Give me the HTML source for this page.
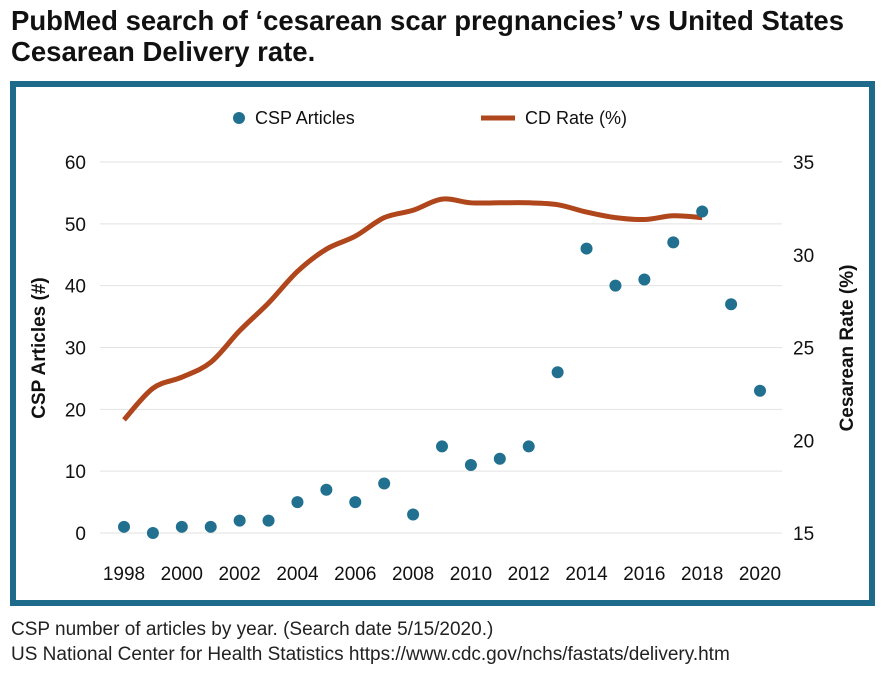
<!DOCTYPE html>
<html><head><meta charset="utf-8"><style>
body{margin:0;width:885px;height:685px;background:#fff;font-family:"Liberation Sans",Arial,sans-serif;overflow:hidden}
#title{position:absolute;left:11px;top:5px;font-size:27.5px;font-weight:bold;line-height:31px;color:#111}
#frame{position:absolute;left:10px;top:81px;width:853px;height:513px;border:6px solid #1e6a8b}
.note{position:absolute;left:11px;font-size:19px;color:#222}
</style></head><body>
<div id="title">PubMed search of ‘cesarean scar pregnancies’ vs United States<br>Cesarean Delivery rate.</div>
<div id="frame"></div>
<svg id="chart" width="885" height="685" style="position:absolute;left:0;top:0"></svg>
<div class="note" style="top:619px">CSP number of articles by year. (Search date 5/15/2020.)</div>
<div class="note" style="top:644px">US National Center for Health Statistics https://www.cdc.gov/nchs/fastats/delivery.htm</div>
<script>
const years=[1998,1999,2000,2001,2002,2003,2004,2005,2006,2007,2008,2009,2010,2011,2012,2013,2014,2015,2016,2017,2018,2019,2020];
const articles=[1,0,1,1,2,2,5,7,5,8,3,14,11,12,14,26,46,40,41,47,52,37,23];
const cdYears=[1998,1999,2000,2001,2002,2003,2004,2005,2006,2007,2008,2009,2010,2011,2012,2013,2014,2015,2016,2017,2018];
const cdRate=[21.1,22.8,23.4,24.2,25.9,27.4,29.1,30.3,31.0,32.0,32.4,33.0,32.8,32.8,32.8,32.7,32.3,32.0,31.9,32.1,32.0];
const leftTicks=[0,10,20,30,40,50,60];
const rightTicks=[15,20,25,30,35];
const xTicks=[1998,2000,2002,2004,2006,2008,2010,2012,2014,2016,2018,2020];
const NS="http://www.w3.org/2000/svg",svg=document.getElementById('chart');
const x=v=>124+(v-1998)*(760-124)/22;
const yL=v=>533-v*(533-162)/60;
const yR=v=>533-(v-15)*(533-162)/20;
function mk(t,a,txt){const e=document.createElementNS(NS,t);for(const k in a)e.setAttribute(k,a[k]);if(txt!==undefined)e.textContent=txt;svg.appendChild(e);return e;}
leftTicks.forEach(t=>{
 const g=mk('line',{x1:100,x2:782,y1:yL(t),y2:yL(t),stroke:'#e2e2e2','stroke-width':1});
 
 
 const l=mk('text',{x:86,y:yL(t)+7,'text-anchor':'end','font-size':19,fill:'#111'},t);
 
 
});
rightTicks.forEach(t=>{
 const l=mk('text',{x:793,y:yR(t)+7,'font-size':19,fill:'#111'},t);
 
 
});
xTicks.forEach(t=>{
 const l=mk('text',{x:x(t),y:580,'text-anchor':'middle','font-size':19,fill:'#111'},t);
 
 
});
let t1=mk('text',{x:0,y:0,transform:'translate(45,348) rotate(-90)','text-anchor':'middle','font-size':19,'font-weight':'bold',fill:'#111'},'CSP Articles (#)');


let t2=mk('text',{x:0,y:0,transform:'translate(853,348) rotate(-90)','text-anchor':'middle','font-size':19,'font-weight':'bold',fill:'#111'},'Cesarean Rate (%)');


const pts=cdYears.map((yr,i)=>[x(yr),yR(cdRate[i])]);
let d='M'+pts[0][0]+','+pts[0][1];
for(let i=0;i<pts.length-1;i++){const p0=pts[Math.max(0,i-1)],p1=pts[i],p2=pts[i+1],p3=pts[Math.min(pts.length-1,i+2)];
 const c1=[p1[0]+(p2[0]-p0[0])/6,p1[1]+(p2[1]-p0[1])/6],c2=[p2[0]-(p3[0]-p1[0])/6,p2[1]-(p3[1]-p1[1])/6];
 d+=` C${c1[0]},${c1[1]} ${c2[0]},${c2[1]} ${p2[0]},${p2[1]}`;}
const ln=mk('path',{d:d,fill:'none',stroke:'#b0461c','stroke-width':5,'stroke-linejoin':'round'});


years.forEach((yr,i)=>{
 const c=mk('circle',{cx:x(yr),cy:yL(articles[i]),r:6,fill:'#21708f'});
 
 
});
const lc=mk('circle',{cx:239,cy:118,r:6,fill:'#21708f'});


const lt=mk('text',{x:255,y:124,'font-size':18,fill:'#111'},'CSP Articles');


const ll=mk('line',{x1:481,x2:515,y1:118,y2:118,stroke:'#b0461c','stroke-width':5});


const lt2=mk('text',{x:525,y:124,'font-size':18,fill:'#111'},'CD Rate (%)');


</script>
</body></html>
